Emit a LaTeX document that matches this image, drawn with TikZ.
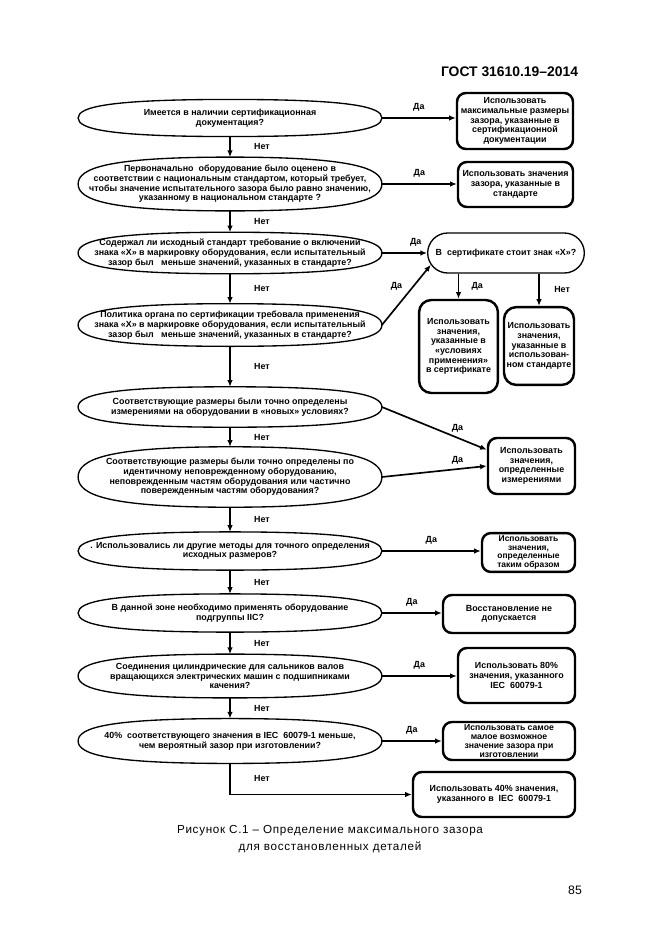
\documentclass[tikz,border=0pt]{standalone}
\usepackage{fontspec}
\setmainfont{Liberation Sans}
\usetikzlibrary{arrows.meta,shapes.misc,positioning,calc}
\newcommand\qfont{\bfseries\fontsize{8}{8.7}\selectfont}

\begin{document}
\begin{tikzpicture}[x=0.9pt,y=-0.9pt,
    quest/.style={minimum width=273pt,inner sep=0pt,align=center,font=\qfont},
    qline/.style={line width=1.2pt},
    answer/.style={draw,line width=2.2pt,rounded corners=8pt,align=center,font=\qfont,inner sep=1pt},
    flow/.style={-{Latex[length=6pt,width=5pt]},line width=1.5pt},
    lbl/.style={font=\qfont,inner sep=1pt}]
  \useasboundingbox (0,0) rectangle (661,935);
  \node[font=\bfseries\fontsize{12.5}{14}\selectfont,anchor=east] (gost) at (582,72) {ГОСТ 31610.19–2014};

  % questions
  \node[quest,minimum height=33pt] (q1) at (230,118) {Имеется в наличии сертификационная\\документация?};
  \node[quest,minimum height=48pt] (q2) at (230,184) {Первоначально\ \ оборудование было оценено в\\соответствии с национальным стандартом, который требует,\\чтобы значение испытательного зазора было равно значению,\\указанному в национальном стандарте ?};
  \node[quest,minimum height=37pt] (q3) at (230,253) {Содержал ли исходный стандарт требование о включении\\знака «Х» в маркировку оборудования, если испытательный\\зазор был\ \ \ меньше значений, указанных в стандарте?};
  \node[quest,minimum height=38pt] (q4) at (230,325) {Политика органа по сертификации требовала применения\\знака «Х» в маркировке оборудования, если испытательный\\зазор был\ \ \ меньше значений, указанных в стандарте?};
  \node[quest,minimum height=36pt] (q5) at (230,407) {Соответствующие размеры были точно определены\\измерениями на оборудовании в «новых» условиях?};
  \node[quest,minimum height=54pt] (q6) at (230,477) {Соответствующие размеры были точно определены по\\идентичному неповрежденному оборудованию,\\неповрежденным частям оборудования или частично\\повережденным частям оборудования?};
  \node[quest,minimum height=34pt] (q7) at (230,551) {. Использовались ли другие методы для точного определения\\исходных размеров?};
  \node[quest,minimum height=34pt] (q8) at (230,613) {В данной зоне необходимо применять оборудование\\подгруппы IIC?};
  \node[quest,minimum height=39pt] (q9) at (230,676) {Соединения цилиндрические для сальников валов\\вращающихся электрических машин с подшипниками\\качения?};
  \node[quest,minimum height=40pt] (q10) at (230,741) {40\%\ \ соответствующего значения в IEC\ \ 60079-1 меньше,\\чем вероятный зазор при изготовлении?};
  \foreach \n in {q1,q2,q3,q4,q5,q6,q7,q8,q9,q10}
    \draw[qline] (\n.west)
      .. controls ($(\n.west)!0.6!(\n.north -| \n.west)$) and ($(\n.north)!0.8!(\n.north -| \n.west)$) .. (\n.north)
      .. controls ($(\n.north)!0.8!(\n.north -| \n.east)$) and ($(\n.east)!0.6!(\n.north -| \n.east)$) .. (\n.east)
      .. controls ($(\n.east)!0.6!(\n.south -| \n.east)$) and ($(\n.south)!0.8!(\n.south -| \n.east)$) .. (\n.south)
      .. controls ($(\n.south)!0.8!(\n.south -| \n.west)$) and ($(\n.west)!0.6!(\n.south -| \n.west)$) .. (\n.west) -- cycle;

  % answers
  \node[answer,minimum width=104.4pt,minimum height=50.4pt] (b1) at (515,121) {Использовать\\максимальные размеры\\зазора, указанные в\\сертификационной\\документации};
  \node[answer,minimum width=103.5pt,minimum height=40.5pt] (b2) at (515.5,184.5) {Использовать значения\\зазора, указанные в\\стандарте};
  \node[rounded rectangle,draw,line width=1.2pt,minimum width=141pt,minimum height=36pt,inner sep=0pt,
    label={[font=\qfont]center:{В\ \ сертификате стоит знак «Х»?}}] (cert) at (506,253) {};
  \node[answer,rounded corners=11pt,minimum width=71pt,minimum height=83.7pt] (ba) at (458.5,346.5) {Использовать\\значения,\\указанные в\\«условиях\\применения»\\в сертификате};
  \node[answer,rounded corners=11pt,minimum width=63pt,minimum height=70pt] (bb) at (539,346) {Использовать\\значения,\\указанные в\\использован-\\ном стандарте};
  \node[answer,minimum width=78.3pt,minimum height=50.4pt] (bc) at (531.5,466) {Использовать\\значения,\\определенные\\измерениями};
  \node[answer,minimum width=83.7pt,minimum height=35pt,inner sep=0pt,font=\bfseries\fontsize{7.6}{7.9}\selectfont] (bd) at (528.5,552.5) {Использовать\\значения,\\определенные\\таким образом};
  \node[answer,minimum width=118.8pt,minimum height=34.2pt] (be) at (509,614) {Восстановление не\\допускается};
  \node[answer,minimum width=105.3pt,minimum height=49.5pt] (bf) at (516.5,675.5) {Использовать 80\%\\значения, указанного\\IEC\ \ 60079-1};
  \node[answer,minimum width=118.8pt,minimum height=34.2pt,inner sep=0pt,font=\bfseries\fontsize{7.8}{8}\selectfont] (bg) at (509,741) {Использовать самое\\малое возможное\\значение зазора при\\изготовлении};
  \node[answer,minimum width=145.8pt,minimum height=40.5pt] (bh) at (494,794.5) {Использовать 40\% значения,\\указанного в\ \ IEC\ \ 60079-1};

  % connectors
  \draw[flow] (q1) -- node[lbl,right=20pt]{Нет} (q2);
  \draw[flow] (q2) -- node[lbl,right=20pt]{Нет} (q3);
  \draw[flow] (q3) -- node[lbl,right=20pt]{Нет} (q4);
  \draw[flow] (q4) -- node[lbl,right=20pt]{Нет} (q5);
  \draw[flow] (q5) -- node[lbl,right=20pt]{Нет} (q6);
  \draw[flow] (q6) -- node[lbl,right=20pt]{Нет} (q7);
  \draw[flow] (q7) -- node[lbl,right=20pt]{Нет} (q8);
  \draw[flow] (q8) -- node[lbl,right=20pt]{Нет} (q9);
  \draw[flow] (q9) -- node[lbl,right=20pt]{Нет} (q10);
  \draw[flow] (q10.south) |- node[lbl,right=20pt,pos=0.25]{Нет} (bh.west);

  \draw[flow] (q1.east) -- node[lbl,above=4pt]{Да} (q1.east -| b1.west);
  \draw[flow] (q2.east) -- node[lbl,above=4pt]{Да} (q2.east -| b2.west);
  \draw[flow] (q3.east) -- node[lbl,above=4pt,pos=0.75]{Да} (cert.west);
  \draw[flow] (q4.east) -- node[lbl,above left=3pt]{Да} (cert.189);
  \draw[flow] (cert.south -| ba.north) -- node[lbl,right=10pt]{Да} (ba.north);
  \draw[flow] (cert.south -| bb.north) -- node[lbl,right=12pt]{Нет} (bb.north);
  \draw[flow] (q5.east) -- node[lbl,above=3pt,pos=0.72]{Да} (bc.160);
  \draw[flow] (q6.east) -- node[lbl,above=3pt,pos=0.72]{Да} (bc.west);
  \draw[flow] (q7.east) -- node[lbl,above=4pt]{Да} (q7.east -| bd.west);
  \draw[flow] (q8.east) -- node[lbl,above=4pt]{Да} (q8.east -| be.west);
  \draw[flow] (q9.east) -- node[lbl,above=4pt]{Да} (q9.east -| bf.west);
  \draw[flow] (q10.east) -- node[lbl,above=4pt]{Да} (q10.east -| bg.west);

  \node[align=center,font=\fontsize{10.5}{16}\selectfont\addfontfeature{LetterSpace=6}] (caption) at (330,839) {Рисунок С.1 – Определение максимального зазора\\для восстановленных деталей};
  \node[font=\fontsize{11}{13}\selectfont] (page) at (575,890) {85};
\end{tikzpicture}
\end{document}
